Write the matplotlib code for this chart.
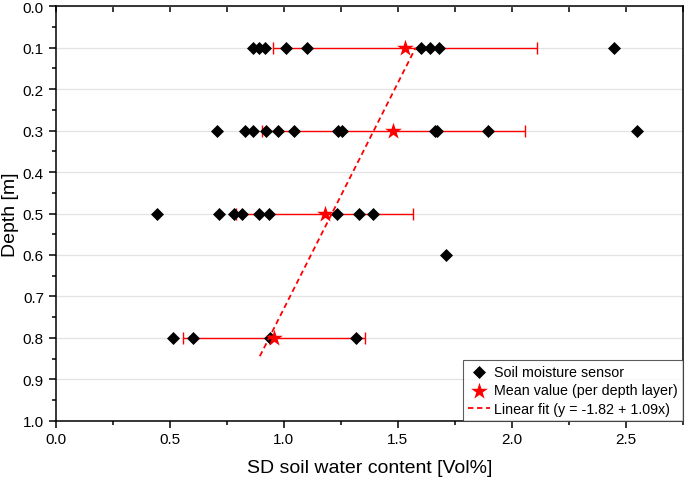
import numpy as np
import matplotlib
matplotlib.use("Agg")
import matplotlib.pyplot as plt
from matplotlib.ticker import MultipleLocator

plt.rcParams['font.family'] = ['Liberation Sans', 'DejaVu Sans']

# individual sensors: SD soil water content per depth
sensor_sd = [0.866, 0.892, 0.919, 1.010, 1.100, 1.601, 1.641, 1.679, 2.448,
             0.706, 0.830, 0.864, 0.922, 0.976, 1.045, 1.239, 1.254, 1.664, 1.673, 1.895, 2.547,
             0.445, 0.715, 0.782, 0.818, 0.893, 0.934, 1.232, 1.328, 1.392,
             1.711,
             0.516, 0.603, 0.940, 1.317]
sensor_depth = [0.1] * 9 + [0.3] * 12 + [0.5] * 9 + [0.6] + [0.8] * 4

# mean per depth layer and its spread
mean_depth = [0.1, 0.3, 0.5, 0.8]
mean_sd = [1.530, 1.480, 1.179, 0.957]
mean_err = [0.579, 0.577, 0.389, 0.401]

# linear fit
fit_a = 1.82
fit_b = -1.09
fit_sd = [0.895, 1.578]

fig = plt.figure(figsize=(6.85, 4.81), dpi=100)
ax = fig.add_axes([0.0813, 0.1233, 0.9157, 0.8615])

ax.grid(axis='y', color='#e3e3e3', lw=0.9, zorder=0)
ax.set_axisbelow(True)

ax.scatter(sensor_sd, sensor_depth, marker='D', s=44, color='black', zorder=3,
           label='Soil moisture sensor', linewidths=0)
ax.errorbar(mean_sd, mean_depth, xerr=mean_err, fmt='none', ecolor='red',
            elinewidth=1, capsize=4, capthick=1, zorder=2)
ax.scatter(mean_sd, mean_depth, marker='*', s=160, color='red', zorder=4,
           label='Mean value (per depth layer)', linewidths=0)
fx = np.array(fit_sd)
ax.plot(fx, fit_a + fit_b * fx, color='red', ls=(0, (3, 2)), lw=1.3, zorder=3,
        label='Linear fit (y = -1.82 + 1.09x)')

ax.set_xlim(0, 2.75)
ax.set_ylim(1.0, 0.0)
ax.xaxis.set_major_locator(MultipleLocator(0.5))
ax.xaxis.set_minor_locator(MultipleLocator(0.25))
ax.yaxis.set_major_locator(MultipleLocator(0.1))
ax.yaxis.set_minor_locator(MultipleLocator(0.05))
ax.xaxis.set_major_formatter(plt.FormatStrFormatter('%.1f'))
ax.yaxis.set_major_formatter(plt.FormatStrFormatter('%.1f'))

ax.tick_params(axis='both', which='both', labelsize=11, direction='out', width=1.1)
ax.tick_params(which='major', length=5)
ax.tick_params(which='minor', length=3)
for side in ['top', 'right', 'bottom', 'left']:
    ax.spines[side].set_linewidth(1.1)

# inward ticks on top edge
top = ax.secondary_xaxis('top')
top.xaxis.set_major_locator(MultipleLocator(0.5))
top.xaxis.set_minor_locator(MultipleLocator(0.25))
top.tick_params(which='both', direction='in', length=4, width=1.1, labeltop=False)
top.spines['top'].set_visible(False)

ax.set_xlabel('SD soil water content [Vol%]', fontsize=14, labelpad=9)
ax.set_ylabel('Depth [m]', fontsize=14, labelpad=3)

leg = ax.legend(loc='lower right', fontsize=10.3, frameon=True, fancybox=False,
                edgecolor='#333333', borderaxespad=0, handlelength=1.5,
                handletextpad=0.3, labelspacing=0.3, borderpad=0.35,
                scatterpoints=1)
leg.get_frame().set_linewidth(0.8)

fig.savefig('out.png', dpi=100)
